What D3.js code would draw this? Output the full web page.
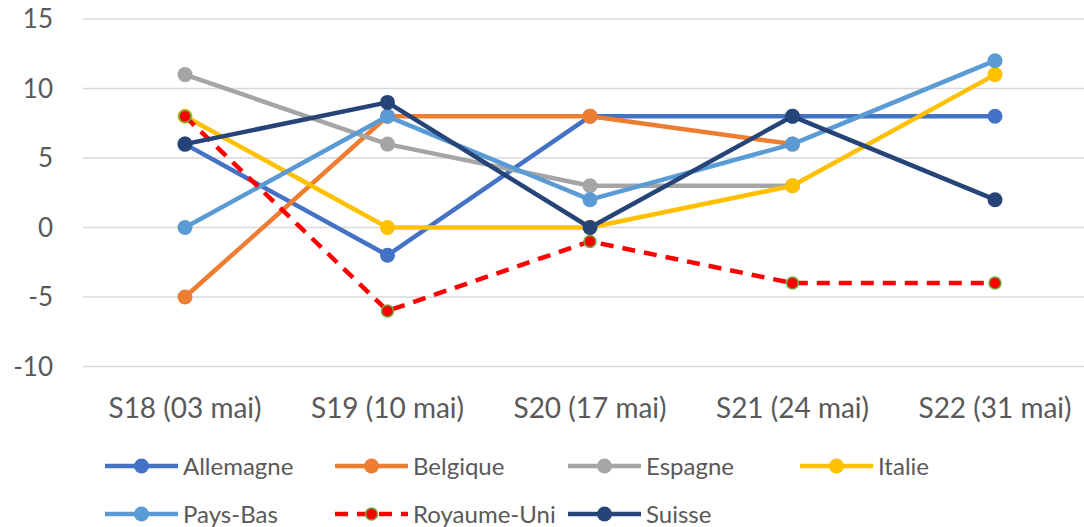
<!DOCTYPE html>
<html><head><meta charset="utf-8">
<script src="https://cdn.jsdelivr.net/npm/d3@7"></script>
<style>body{margin:0;background:#fff}svg{display:block}text{font-family:Lato,"Noto Sans",sans-serif;fill:#595959}</style>
</head><body>
<svg id="c" width="1084" height="527"></svg>
<script>
const categories = ["S18 (03 mai)","S19 (10 mai)","S20 (17 mai)","S21 (24 mai)","S22 (31 mai)"];
const yTicks = [-10,-5,0,5,10,15];
const names = ["Allemagne","Belgique","Espagne","Italie","Pays-Bas","Royaume-Uni","Suisse"];
const allemagne = [6,-2,8,8,8];
const belgique = [-5,8,8,6,null];
const espagne = [11,6,3,3,null];
const italie = [8,0,0,3,11];
const paysBas = [0,8,2,6,12];
const royaumeUni = [8,-6,-1,-4,-4];
const suisse = [6,9,0,8,2];
const colors = ["#4472C4","#ED7D31","#A5A5A5","#FFC000","#5B9BD5","#FF0000","#264478"];
const seriesVals = [allemagne,belgique,espagne,italie,paysBas,royaumeUni,suisse];

const svg = d3.select("#c");
const x = d3.scalePoint().domain(categories).range([185,995]);
const y = d3.scaleLinear().domain([-10,15]).range([366.5,19]);

svg.append("g").selectAll("line").data(yTicks).join("line")
  .attr("x1",83).attr("x2",1084).attr("y1",d=>y(d)).attr("y2",d=>y(d))
  .attr("stroke","#d9d9d9").attr("stroke-width",1.5);
svg.append("g").selectAll("text").data(yTicks).join("text")
  .attr("x",53).attr("y",d=>y(d)).attr("dy","0.36em").attr("text-anchor","end")
  .attr("font-size",26).text(d=>d);
svg.append("g").selectAll("text").data(categories).join("text")
  .attr("x",d=>x(d)).attr("y",408).attr("dy","0.36em").attr("text-anchor","middle")
  .attr("font-size",28).text(d=>d);

const line = d3.line().defined(d=>d.v!==null).x(d=>x(d.c)).y(d=>y(d.v));
names.forEach((n,i)=>{
  const data = seriesVals[i].map((v,j)=>({c:categories[j],v}));
  const uk = n==="Royaume-Uni";
  const g = svg.append("g");
  g.append("path").datum(data).attr("d",line).attr("fill","none")
    .attr("stroke",colors[i]).attr("stroke-width",4.5).attr("stroke-linejoin","round")
    .attr("stroke-dasharray",uk?"13,9":null);
  g.selectAll("circle").data(data.filter(d=>d.v!==null)).join("circle")
    .attr("cx",d=>x(d.c)).attr("cy",d=>y(d.v)).attr("r",uk?6:7.5)
    .attr("fill",colors[i]).attr("stroke",uk?"#70AD47":colors[i]).attr("stroke-width",uk?1.5:0);
});

const legPos = [[105,466],[335,466],[568,466],[800,466],[105,514],[335,514],[568,514]];
names.forEach((n,i)=>{
  const [lx,ly] = legPos[i];
  const uk = n==="Royaume-Uni";
  const g = svg.append("g");
  g.append("line").attr("x1",lx).attr("x2",lx+73).attr("y1",ly).attr("y2",ly)
    .attr("stroke",colors[i]).attr("stroke-width",4.5).attr("stroke-dasharray",uk?"13,9":null);
  g.append("circle").attr("cx",lx+36.5).attr("cy",ly).attr("r",uk?6:7.5)
    .attr("fill",colors[i]).attr("stroke",uk?"#70AD47":colors[i]).attr("stroke-width",uk?1.5:0);
  g.append("text").attr("x",lx+78).attr("y",ly).attr("dy","0.36em").attr("font-size",24).text(n);
});
</script>
</body></html>
